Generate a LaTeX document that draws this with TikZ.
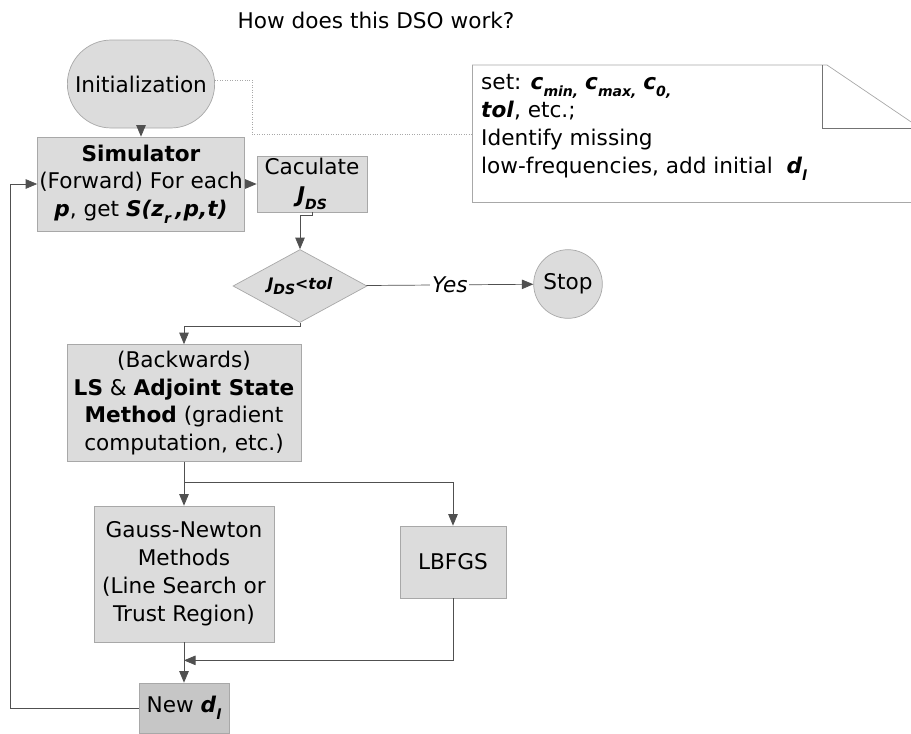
\documentclass[tikz,border=0pt]{standalone}
\usepackage{fontspec}
\setmainfont{DejaVu Sans}
\usepackage{tikz}
\usetikzlibrary{shapes.geometric, shapes.misc, arrows.meta}
\definecolor{boxgray}{HTML}{DCDCDC}
\definecolor{darkbox}{HTML}{C6C6C6}
\definecolor{edgegray}{HTML}{A8A8A8}
\definecolor{linegray}{HTML}{505050}
\tikzstyle{term} = [rounded rectangle, minimum width=3.18cm, minimum height=1.76cm, text centered, draw=edgegray, fill=boxgray]
\tikzstyle{process} = [rectangle, inner sep=1pt, align=center, text centered, draw=edgegray, fill=boxgray]
\tikzstyle{decision} = [diamond, aspect=1.8, inner sep=0pt, minimum width=2.68cm, minimum height=1.46cm, draw=edgegray, fill=boxgray]
\tikzstyle{stopper} = [circle, minimum size=1.36cm, draw=edgegray, fill=boxgray]
\tikzstyle{arrow} = [->,>={Triangle[length=2.3mm,width=1.9mm]}, draw=linegray]
\tikzstyle{dotlink} = [densely dotted, draw=edgegray]
\newcommand{\bi}[1]{\textbf{\textit{#1}}}
\newcommand{\sbi}[1]{\raisebox{-0.55ex}{\footnotesize\bi{#1}}}

\begin{document}
\begin{tikzpicture}[node distance=2cm, font=\fontsize{12.3}{15.9}\selectfont]
	\useasboundingbox (0,0) rectangle (18.22,-14.66);
	\clip (0,0) rectangle (18.22,-14.66);
	
	\node (title) at (7.52,-0.4) {How does this DSO work?};
	\node (init) [term] at (2.82,-1.68) {Initialization};
	\node (sim) [process, below of=init, minimum width=3.78cm, minimum height=1.88cm] {\textbf{Simulator}\\(Forward) For each\\\bi{p}, get \bi{S(z}\sbi{r}\bi{\,,p,t)}};
	\node (calc) [process, right of=sim, xshift=1.42cm, minimum width=2.2cm, minimum height=1.12cm] {Caculate\\\bi{J}\sbi{DS}};
	\node (dec) [decision, below of=calc, xshift=-0.24cm, yshift=-0.04cm] {\fontsize{9}{11}\selectfont\bi{J}\sbi{DS}\bi{<tol}};
	\node (stop) [stopper, right of=dec, xshift=3.36cm, yshift=0.04cm] {Stop};
	\node (back) [process, below of=sim, xshift=0.86cm, yshift=-2.38cm, minimum width=4.68cm, minimum height=2.34cm] {(Backwards)\\\textbf{LS} \& \textbf{Adjoint State}\\\textbf{Method} (gradient\\computation, etc.)};
	\node (gn) [process, below of=back, yshift=-1.42cm, minimum width=3.6cm, minimum height=2.72cm] {Gauss-Newton\\Methods\\(Line Search or\\Trust Region)};
	\node (lbfgs) [process, right of=gn, xshift=3.38cm, yshift=0.24cm, minimum width=2.12cm, minimum height=1.44cm] {LBFGS};
	\node (newd) [process, below of=gn, yshift=-0.68cm, fill=darkbox, minimum width=1.8cm, minimum height=1cm] {New \bi{d}\sbi{l}};
	
	% note with folded corner
	\draw [edgegray] (9.44,-1.3) -- (16.54,-1.3) -- (18.8,-2.83);
	\draw [edgegray] (9.44,-1.3) |- (18.5,-4.04);
	\draw [linegray!80] (16.44,-1.3) -- (16.44,-2.56) -- (18.3,-2.56);
	\coordinate (noteleft) at (9.44,-2.68);
	\node (note) [anchor=west, align=left] at (9.5,-2.55) {set: \bi{c}\sbi{min,} \bi{c}\sbi{max,} \bi{c}\sbi{0,}\\\bi{tol}, etc.;\\Identify missing\\low-frequencies, add initial\ \ \bi{d}\sbi{l}};
	
	\draw [dotlink] ([yshift=0.08cm]init.east) -- ++(0.74,0) |- (noteleft);
	\draw [arrow] (init) -- (sim);
	\draw [arrow] (sim) -- (calc);
	\draw [arrow] (calc.south) -- ++(0,-0.06) -| (dec.north);
	\draw [arrow] (dec) -- node[fill=white, font=\fontsize{12.3}{15.9}\selectfont\itshape, inner sep=1pt] {Yes} (stop);
	\draw [arrow] (dec.south) -- ++(0,-0.06) -| (back.north);
	\draw [arrow] (back) -- (gn);
	\draw [arrow] (back.south) -- ++(0,-0.4) -| (lbfgs.north);
	\draw [arrow] (gn) -- (newd);
	\draw [arrow] (lbfgs.south) |- ([yshift=-0.36cm]gn.south);
	\draw [arrow] (newd.west) -- ++(-2.56,0) |- (sim.west);
	
\end{tikzpicture}
\end{document}
